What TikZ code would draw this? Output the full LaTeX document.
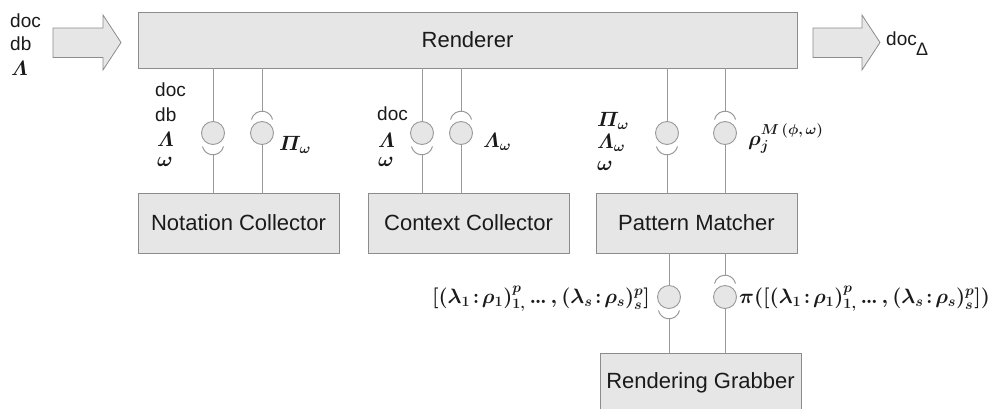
\documentclass[tikz,border=0pt]{standalone}
\usepackage{fontspec}
\usepackage{amsmath}
\newfontfamily\lsans{Liberation Sans}
\definecolor{boxfill}{HTML}{E6E6E6}
\definecolor{boxline}{HTML}{8C8C8C}
\definecolor{wirec}{HTML}{999999}
\definecolor{txt}{HTML}{1A1A1A}
\newcommand{\tdots}{\mathinner{.\mkern-1mu.\mkern-1mu.}}
\begin{document}
\begin{tikzpicture}[x=1pt,y=-1pt,
  comp/.style={draw=boxline, fill=boxfill, line width=0.9pt, inner sep=0pt,
    minimum width=201pt, minimum height=60pt, text=txt,
    font=\lsans\fontsize{22}{26}\selectfont},
  wire/.style={draw=wirec, line width=1pt},
  ball/.style={circle, draw=wirec, fill=boxfill, line width=0.9pt,
    minimum size=23pt, inner sep=0pt},
  lbl/.style={anchor=base west, inner sep=0pt, text=txt,
    font=\lsans\fontsize{19}{22}\selectfont},
  mlbl/.style={anchor=base west, inner sep=0pt, text=txt,
    font=\fontsize{21}{24}\selectfont\boldmath},
  biglbl/.style={inner sep=0pt, text=txt, font=\fontsize{22}{26}\selectfont\boldmath},
  fatarrow/.style={draw=boxline, fill=boxfill, line width=0.8pt, line join=miter},
]
\useasboundingbox (0,0) rectangle (989,408);

% components
\node[comp, minimum width=659pt, minimum height=56pt] (renderer) at (467.5,40) {Renderer};
\node[comp] (notation) at (238.5,223) {Notation Collector};
\node[comp] (context)  at (468.5,223) {Context Collector};
\node[comp] (pattern)  at (696.5,223) {Pattern Matcher};
\node[comp, minimum height=59pt] (grabber) at (700.5,382.5) {Rendering Grabber};

% input and output arrows
\draw[fatarrow] (53,28) -- (103,28) -- (103,15) -- (121,42.5) -- (103,70)
  -- (103,57.5) -- (53,57.5) -- cycle;
\draw[fatarrow] (813,28) -- (862,28) -- (862,15) -- (880,42.5) -- (862,70)
  -- (862,57.5) -- (813,57.5) -- cycle;

% interface balls
\node[ball] (n1) at (213,133) {};
\node[ball] (n2) at (262,133) {};
\node[ball] (c1) at (422,133) {};
\node[ball] (c2) at (461,133) {};
\node[ball] (p1) at (667,133) {};
\node[ball] (p2) at (725,133) {};
\node[ball] (g1) at (669,297) {};
\node[ball] (g2) at (725,297) {};

% sockets: cup below a ball / cap above a ball
\foreach \b in {n1,c1,p1,g1}{
  \draw[wire] ([shift={(10.52,13.43)}]\b.center) arc[start angle=13, end angle=167, radius=10.8];
  \coordinate (\b s) at ([shift={(0,21.8)}]\b.center);
}
\foreach \b in {n2,c2,p2,g2}{
  \draw[wire] ([shift={(-10.52,-13.43)}]\b.center) arc[start angle=193, end angle=347, radius=10.8];
  \coordinate (\b s) at ([shift={(0,-21.8)}]\b.center);
}

% connectors
\draw[wire] (renderer.south -| n1) -- (n1.north);
\draw[wire] (n1s) -- (notation.north -| n1s);
\draw[wire] (renderer.south -| n2) -- (n2s);
\draw[wire] (n2.south) -- (notation.north -| n2);
\draw[wire] (renderer.south -| c1) -- (c1.north);
\draw[wire] (c1s) -- (context.north -| c1s);
\draw[wire] (renderer.south -| c2) -- (c2s);
\draw[wire] (c2.south) -- (context.north -| c2);
\draw[wire] (renderer.south -| p1) -- (p1.north);
\draw[wire] (p1s) -- (pattern.north -| p1s);
\draw[wire] (renderer.south -| p2) -- (p2s);
\draw[wire] (p2.south) -- (pattern.north -| p2);
\draw[wire] (pattern.south -| g1) -- (g1.north);
\draw[wire] (g1s) -- (grabber.north -| g1s);
\draw[wire] (pattern.south -| g2) -- (g2s);
\draw[wire] (g2.south) -- (grabber.north -| g2);

% input and output labels
\node[lbl] (in1) at (10,27) {doc};
\node[lbl] (in2) at (10,50) {db};
\node[mlbl] (in3) at (11,75) {$\varLambda$};
\node[lbl] (out1) at (886,45) {doc};
\node[lbl, font=\lsans\fontsize{18}{22}\selectfont] (out2) at (916,55) {Δ};

% notation collector labels
\node[lbl] (na) at (155,96.7) {doc};
\node[lbl] (nb) at (155,121.7) {db};
\node[mlbl] (nc) at (157,146.7) {$\varLambda$};
\node[mlbl] (nd) at (157,166) {$\omega$};
\node[mlbl, font=\fontsize{22}{26}\selectfont\boldmath] (ne) at (279,150) {$\varPi_\omega$};

% context collector labels
\node[lbl] (ca) at (377,120) {doc};
\node[mlbl] (cb) at (378,147) {$\varLambda$};
\node[mlbl] (cc) at (378,166) {$\omega$};
\node[mlbl] (cd) at (483,147) {$\varLambda_\omega$};

% pattern matcher labels
\node[mlbl] (pa) at (597,126.7) {$\varPi_\omega$};
\node[mlbl] (pb) at (597,148) {$\varLambda_\omega$};
\node[mlbl] (pc) at (597,170) {$\omega$};
\node[mlbl] (pd) at (748,145) {$\rho_j^{M\,(\phi,\,\omega)}$};

% rendering grabber labels
\node[biglbl, anchor=base east] (ga) at (650,303)
  {$[(\lambda_1\mskip2mu{:}\mskip2mu\rho_1)^p_{1,}\tdots,(\lambda_s\mskip2mu{:}\mskip2mu\rho_s)^p_s]$};
\node[biglbl, anchor=base west] (gb) at (739,303)
  {$\pi([(\lambda_1\mskip2mu{:}\mskip2mu\rho_1)^p_{1,}\tdots,(\lambda_s\mskip2mu{:}\mskip2mu\rho_s)^p_s])$};
\end{tikzpicture}
\end{document}
